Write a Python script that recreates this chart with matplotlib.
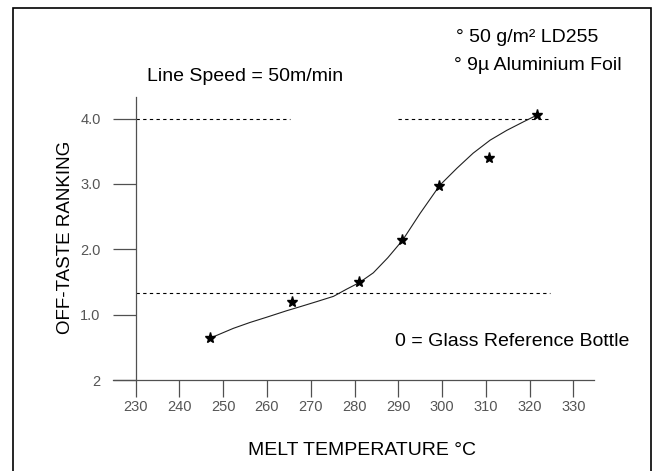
import numpy as np
import matplotlib
matplotlib.use("Agg")
from matplotlib import pyplot as plt
from matplotlib.patches import Rectangle

# measured points (stars)
tempPoints = [246.9, 265.8, 281.0, 290.9, 299.4, 310.7, 321.6]
rankPoints = [0.64, 1.20, 1.50, 2.14, 2.97, 3.40, 4.06]

# hand drawn trend curve
curveTemp = [247.0, 252.3, 256.1, 259.9, 264.5, 267.5, 271.4, 275.2, 278.2, 281.1,
             284.3, 287.6, 291.0, 295.0, 299.5, 303.4, 307.1, 311.0, 314.8,
             318.6, 321.6]
curveRank = [0.64, 0.79, 0.88, 0.96, 1.06, 1.12, 1.20, 1.28, 1.39, 1.49,
             1.64, 1.87, 2.14, 2.55, 2.98, 3.24, 3.47, 3.67, 3.82,
             3.95, 4.05]

# dashed reference lines: (level, start, end)
refLines = [(1.325, 230, 324.7), (4.0, 230, 265.2), (4.0, 290.0, 324.8)]

xTicks = [230, 240, 250, 260, 270, 280, 290, 300, 310, 320, 330]
yTicks = [0, 1, 2, 3, 4]
yTickLabels = ["2", "1.0", "2.0", "3.0", "4.0"]

W, H = 657, 471
axisGray = "#505050"
plt.rcParams['font.family'] = ['Liberation Sans', 'DejaVu Sans']

def fx(px):
	return px / W

def fy(py):
	return 1 - py / H

fig = plt.figure(figsize=(W / 100, H / 100), dpi=100)
fig.patch.set_facecolor("white")

## frame around everything (bottom edge runs off the picture)
fig.patches.append(Rectangle((fx(12.7), fy(480)), fx(650.7) - fx(12.7), fy(8.3) - fy(480),
	transform=fig.transFigure, fill=False, edgecolor="black", linewidth=1.2))

ax = fig.add_axes([fx(113), fy(380), fx(594) - fx(113), fy(97) - fy(380)])
ax.set_xlim(224.81, 334.73)
ax.set_ylim(0, 4.33)

for s in ["top", "right"]:
	ax.spines[s].set_visible(False)
ax.spines["left"].set_position(("data", 230))
for s in ["left", "bottom"]:
	ax.spines[s].set_color(axisGray)
	ax.spines[s].set_linewidth(0.9)

ax.set_xticks(xTicks)
ax.set_xticklabels([str(t) for t in xTicks])
ax.set_yticks(yTicks)
ax.set_yticklabels(yTickLabels)
ax.tick_params(axis="x", direction="out", length=12.2, width=0.9, color=axisGray,
	pad=2.5, labelsize=10.5, labelcolor="#555555")
ax.tick_params(axis="y", direction="out", length=16.3, width=0.9, color=axisGray,
	pad=9, labelsize=10.5, labelcolor="#555555")
for lab in ax.get_xticklabels() + ax.get_yticklabels():
	lab.set_family(['Liberation Sans Narrow', 'Liberation Sans'])

for level, x0, x1 in refLines:
	ax.plot([x0, x1], [level, level], color="black", linewidth=0.8,
		linestyle=(0, (3, 3)), clip_on=False)

ax.plot(curveTemp, curveRank, color="#202020", linewidth=0.8, clip_on=False)
ax.plot(tempPoints, rankPoints, linestyle="none", marker="*", markersize=8,
	color="black", clip_on=False)

## labels and notes
fig.text(fx(361.7), fy(455), "MELT TEMPERATURE °C", ha="center", va="baseline", fontsize=14)
fig.text(fx(65), fy(237.5), "OFF-TASTE RANKING", ha="center", va="center",
	rotation=90, fontsize=13.5)
fig.text(fx(245), fy(81), "Line Speed = 50m/min", ha="center", va="baseline", fontsize=14)
fig.text(fx(456), fy(42), "° 50 g/m² LD255", ha="left", va="baseline", fontsize=14)
fig.text(fx(454), fy(70), "° 9µ Aluminium Foil", ha="left", va="baseline", fontsize=14)
fig.text(fx(395), fy(346), "0 = Glass Reference Bottle", ha="left", va="baseline", fontsize=14)

fig.savefig("out.png", dpi=100)
